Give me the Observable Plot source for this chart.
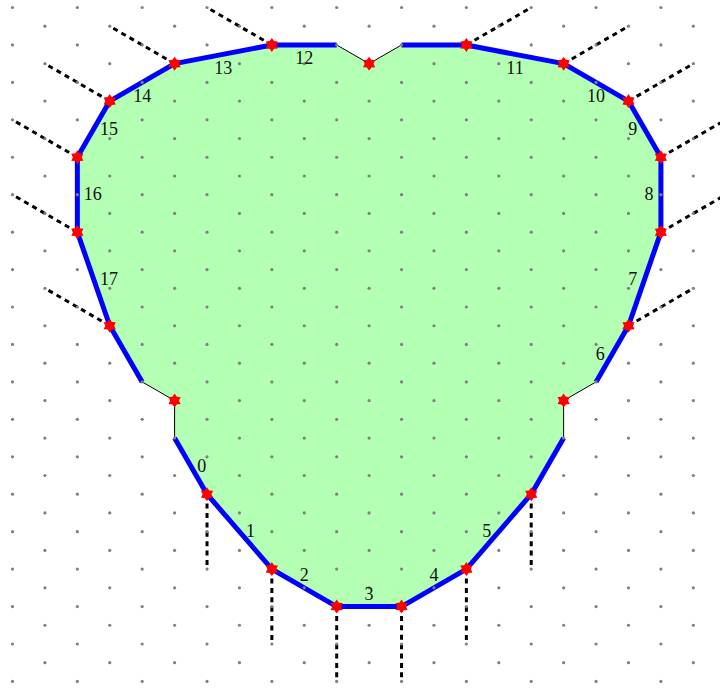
<!DOCTYPE html>
<html><head><meta charset="utf-8">
<script src="https://cdn.jsdelivr.net/npm/d3@7"></script>
<script src="https://cdn.jsdelivr.net/npm/@observablehq/plot@0.6"></script>
<style>body{margin:0;background:#fff}#chart svg{display:block}</style>
</head><body><div id="chart"></div>
<script>
// Triangular lattice coordinates (column i, half-row j)
const vertexI = [5,6,8,10,12,14,16,17,17,18,19,20,20,19,17,14,12,11,10,8,5,3,2,2,3,4,5];
const vertexJ = [23,26,30,32,32,30,26,23,21,20,17,12,8,5,3,2,2,3,2,2,3,5,8,12,17,20,21];
const vertexMarked = [false,true,true,true,true,true,true,false,true,false,true,true,true,true,true,true,false,true,false,true,true,true,true,true,true,false,true];
// edge k joins vertex k and vertex k+1
const edgeKind = ["thick","thick","thick","thick","thick","thick","thick","thin","thin","thick","thick","thick","thick","thick","thick","thick","thin","thin","thick","thick","thick","thick","thick","thick","thick","thin","thin"];
const edgeLabel = [0,1,2,3,4,5,null,null,null,6,7,8,9,10,11,null,null,null,12,13,14,15,16,17,null,null,null];
// dashed rays: start vertex index, end lattice point
const rayFrom = [1,2,3,4,5,6,10,11,12,13,14,15,19,20,21,22,23,24];
const rayToI  = [6,8,10,12,14,16,21,22,22,21,19,16,6,3,1,0,0,1];
const rayToJ  = [30,34,36,36,34,30,15,10,6,3,1,0,0,1,3,6,10,15];
// lattice extent
const gridCols = 22, gridRows = 37;

const W = 720, H = 690;
const unitX = 32.42, unitY = 18.72, originX = 12, originY = 7;

const grid = [];
for (let j = 0; j < gridRows; j++) for (let i = 0; i < gridCols; i++) if ((i + j) % 2 === 0) grid.push({i, j});

const verts = vertexI.map((i, k) => ({i, j: vertexJ[k], marked: vertexMarked[k], k}));
const n = verts.length;
const edges = verts.map((v, k) => {
  const w = verts[(k + 1) % n];
  const di = w.i - v.i, dj = w.j - v.j;
  const vertical = Math.abs(dj * unitY) > Math.abs(di * unitX);
  let side;
  if (vertical) side = dj > 0 ? "right" : "left";
  else side = di > 0 ? "up" : "down";
  return {i1: v.i, j1: v.j, i2: w.i, j2: w.j, mi: (v.i + w.i) / 2, mj: (v.j + w.j) / 2, kind: edgeKind[k], label: edgeLabel[k], side};
});
const rays = rayFrom.map((f, k) => ({i1: vertexI[f], j1: vertexJ[f], i2: rayToI[k], j2: rayToJ[k]}));
const labels = edges.filter(e => e.label != null);

const hexStar = {
  draw(ctx, size) {
    const R = Math.sqrt(size / Math.PI), r = R * 0.63;
    for (let k = 0; k < 12; k++) {
      const a = -Math.PI / 2 + k * Math.PI / 6, rr = k % 2 ? r : R;
      const x = rr * Math.cos(a), y = rr * Math.sin(a);
      if (k) ctx.lineTo(x, y); else ctx.moveTo(x, y);
    }
    ctx.closePath();
  }
};

const font = "'Liberation Serif', 'DejaVu Serif', serif";
const txt = (side, opts) => Plot.text(labels.filter(d => d.side === side), {x: "mi", y: "mj", text: d => String(d.label), fontSize: 18, fontFamily: font, fill: "#111", lineAnchor: "middle", ...opts});

const chart = Plot.plot({
  width: W, height: H,
  margin: 0,
  x: {domain: [-originX / unitX, (W - originX) / unitX], range: [0, W], axis: null},
  y: {domain: [-originY / unitY, (H - originY) / unitY], range: [0, H], axis: null},
  marks: [
    Plot.line(verts, {x: "i", y: "j", fill: "#b3ffb3", stroke: "none", curve: "linear-closed"}),
    Plot.link(rays, {x1: "i1", y1: "j1", x2: "i2", y2: "j2", stroke: "black", strokeWidth: 3, strokeDasharray: "5,4.4"}),
    Plot.link(edges.filter(e => e.kind === "thin"), {x1: "i1", y1: "j1", x2: "i2", y2: "j2", stroke: "black", strokeWidth: 1}),
    Plot.link(edges.filter(e => e.kind === "thick"), {x1: "i1", y1: "j1", x2: "i2", y2: "j2", stroke: "#0000ff", strokeWidth: 5, strokeLinecap: "butt"}),
    Plot.dot(grid, {x: "i", y: "j", r: 1.6, fill: "#808080", stroke: "none"}),
    Plot.dot(verts.filter(v => v.marked), {x: "i", y: "j", r: 7, symbol: hexStar, fill: "#ff0000", stroke: "none"}),
    txt("right", {textAnchor: "start", dx: 6.5}),
    txt("left", {textAnchor: "end", dx: -7.5}),
    txt("up", {dy: -12.5}),
    txt("down", {dy: 13.5})
  ]
});
document.getElementById("chart").append(chart);
</script>
</body></html>
